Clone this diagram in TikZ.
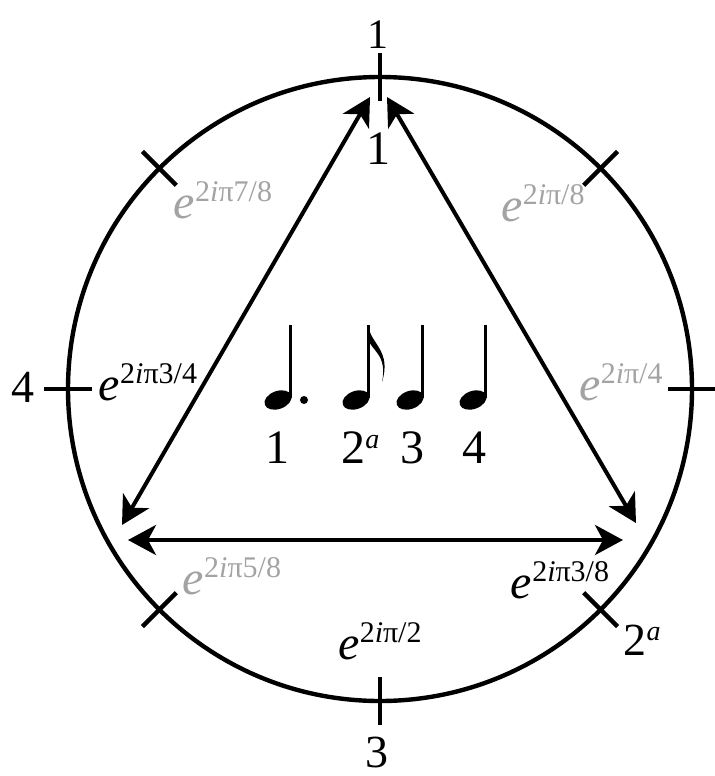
\documentclass[tikz,border=0pt]{standalone}
\usepackage{fontspec}
\setmainfont{Liberation Serif}
\usetikzlibrary{arrows.meta, calc}

\newcommand{\eroot}[1]{\textit{e}\raisebox{8.5pt}{\fontsize{15}{15}\selectfont 2\textit{i}π#1}}
\newcommand{\twoa}{2\raisebox{7.5pt}{\fontsize{14}{14}\selectfont\textit{a}}}

\begin{document}
\begin{tikzpicture}[
  x=0.5pt, y=-0.5pt,
  rim/.style={line width=2.2pt},
  tick/.style={line width=2.2pt},
  arrow/.style={{Stealth[length=14pt,width=15pt,inset=4pt]}-{Stealth[length=14pt,width=15pt,inset=4pt]},
                line width=2pt},
  rootlbl/.style={font=\fontsize{24}{26}\selectfont, inner sep=0pt},
  dim/.style={rootlbl, text=black!36},
  beat/.style={font=\fontsize{23}{25}\selectfont, inner sep=0pt},
  stem/.style={line width=1.3pt}
]
\useasboundingbox (0,0) rectangle (714,776);

% ── Circle and ticks ─────────────────────────────────────
\coordinate (C) at (380,389);
\draw[rim] (C) circle[radius=156pt];
\foreach \a in {0,45,...,315}
  \draw[tick] ($(C)+(\a:144pt)$) -- ($(C)+(\a:168pt)$);

% ── Beat labels outside ─────────────────────────────────
\node[beat, font=\fontsize{21}{23}\selectfont] (b1)  at (378,35)  {1};
\node[beat] (b4)  at (23,387)  {4};
\node[beat] (b3)  at (377,752) {3};
\node[beat] (b2a) at (642,640) {\twoa};

% ── Roots of unity ───────────────────────────────────────
\node[rootlbl] (r0) at (378,149) {1};
\node[dim]     (r1) at (543,203) {\eroot{/8}};
\node[dim]     (r2) at (621,382) {\eroot{/4}};
\node[rootlbl] (r3) at (560,580) {\eroot{3/8}};
\node[rootlbl] (r4) at (380,641) {\eroot{/2}};
\node[dim]     (r5) at (232,576) {\eroot{5/8}};
\node[rootlbl] (r6) at (148,382) {\eroot{3/4}};
\node[dim]     (r7) at (223,200) {\eroot{7/8}};

% ── Triangle ────────────────────────────────────────────
\coordinate (topL)  at (370,97);
\coordinate (botL)  at (122,525);
\coordinate (topR)  at (387,97);
\coordinate (botR)  at (636,523);
\coordinate (baseL) at (128,540);
\coordinate (baseR) at (623,540);
\draw[arrow] (topL)  -- (botL);
\draw[arrow] (topR)  -- (botR);
\draw[arrow] (baseL) -- (baseR);

% ── Rhythm ──────────────────────────────────────────────
\foreach \x in {278,356,410,473} {
  \fill[shift={(\x,400)}, rotate=20] (0,0) ellipse[x radius=7pt, y radius=4.5pt];
  \draw[stem] (\x+12.5,398) -- (\x+12.5,325);
}
\fill (304,400) circle[radius=2pt];
\fill (368.2,325) .. controls (370,344) and (392,350) .. (382,382)
      .. controls (388,354) and (370,350) .. (367.8,338) -- cycle;

\node[beat, font=\fontsize{24}{26}\selectfont] (n1) at (277,448) {1};
\node[beat, font=\fontsize{24}{26}\selectfont, anchor=west] (n2) at (341,448) {\twoa};
\node[beat, font=\fontsize{24}{26}\selectfont] (n3) at (412,448) {3};
\node[beat, font=\fontsize{24}{26}\selectfont] (n4) at (474,448) {4};

\end{tikzpicture}
\end{document}
